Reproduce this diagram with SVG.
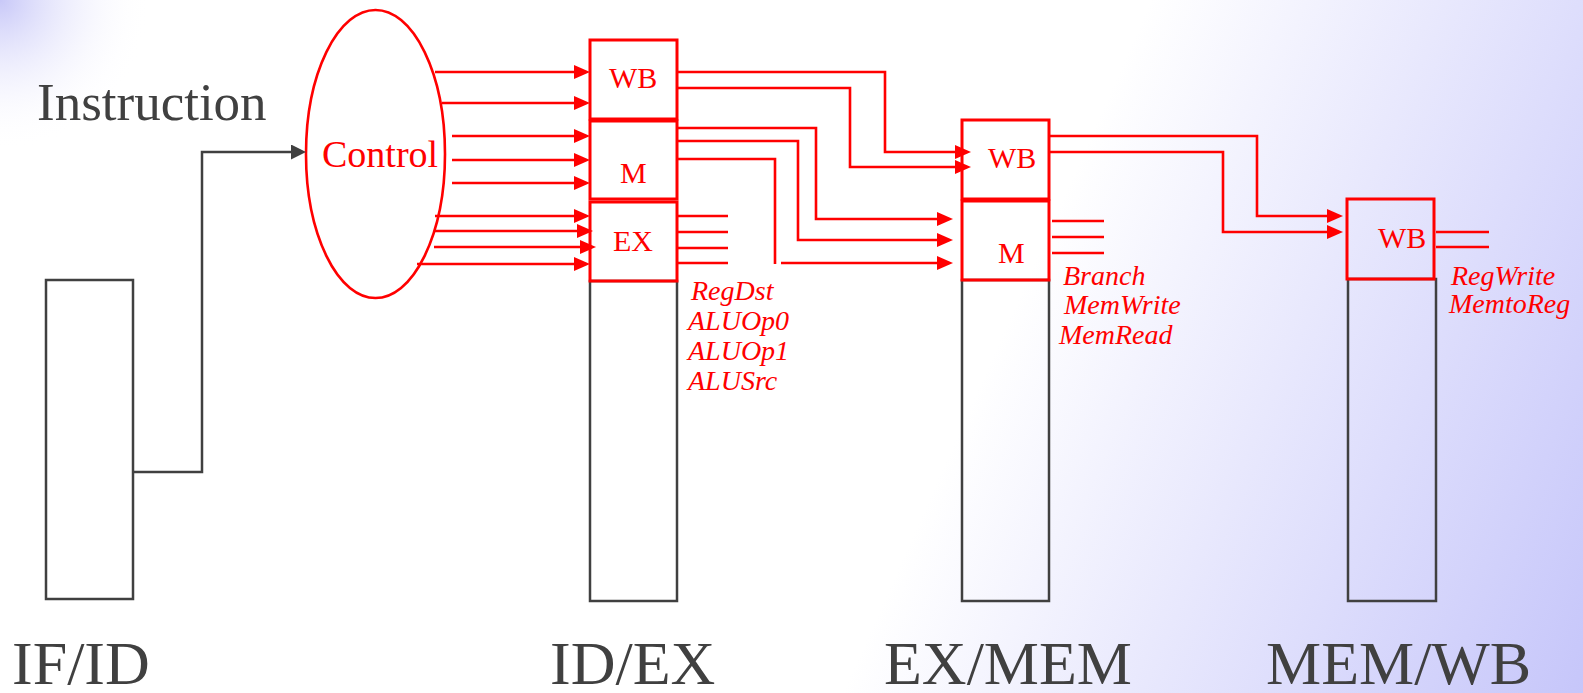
<svg xmlns="http://www.w3.org/2000/svg" width="1583" height="693" viewBox="0 0 1583 693">
<style>
.red{stroke:#ff0000;stroke-width:2.6;fill:none}
.box{stroke:#ff0000;stroke-width:3;fill:none}
.gray{stroke:#404040;stroke-width:2.5;fill:none}
.rt{font-family:"Liberation Serif",serif;fill:#ff0000;font-size:30px}
.it{font-family:"Liberation Serif",serif;fill:#ff0000;font-size:28px;font-style:italic}
.big{font-family:"Liberation Serif",serif;fill:#404040;font-size:62px}
</style>
<defs>
<linearGradient id="bg" gradientUnits="userSpaceOnUse" x1="700" y1="300" x2="1583" y2="693">
<stop offset="0" stop-color="#ffffff"/>
<stop offset="0.3" stop-color="#ffffff"/>
<stop offset="1" stop-color="#c6c6fa"/>
</linearGradient>
<radialGradient id="tl" gradientUnits="userSpaceOnUse" cx="0" cy="0" r="150">
<stop offset="0" stop-color="#c8c8f8" stop-opacity="1"/>
<stop offset="1" stop-color="#ffffff" stop-opacity="0"/>
</radialGradient>
<marker id="ar" markerUnits="userSpaceOnUse" markerWidth="16" markerHeight="14" refX="5" refY="7" orient="auto">
<path d="M0,0 L16,7 L0,14 z" fill="#ff0000"/>
</marker>
<marker id="ag" markerUnits="userSpaceOnUse" markerWidth="15" markerHeight="15" refX="5" refY="7.5" orient="auto">
<path d="M0,0 L15,7.5 L0,15 z" fill="#404040"/>
</marker>
</defs>
<rect x="0" y="0" width="1583" height="693" fill="url(#bg)"/>
<rect x="0" y="0" width="160" height="160" fill="url(#tl)"/>

<text x="37" y="120" font-family="Liberation Serif, serif" font-size="53" fill="#404040">Instruction</text>

<g id="ifid">
<rect x="46" y="280" width="87" height="319" class="gray"/>
<text x="12" y="684" class="big">IF/ID</text>
</g>

<g id="control">
<ellipse cx="375.5" cy="154" rx="69.5" ry="144" class="red"/>
<text x="322" y="167" font-family="Liberation Serif, serif" font-size="38" fill="#ff0000">Control</text>
</g>

<g id="idex">
<rect x="590" y="281" width="87" height="320" class="gray"/>
<rect x="590" y="40" width="87" height="79" class="box"/>
<rect x="590" y="121" width="87" height="78" class="box"/>
<rect x="590" y="202" width="87" height="79" class="box"/>
<text x="609" y="88" class="rt">WB</text>
<text x="620" y="183" class="rt">M</text>
<text x="613" y="251" class="rt">EX</text>
<text x="691" y="300" class="it">RegDst</text>
<text x="688" y="330" class="it">ALUOp0</text>
<text x="688" y="360" class="it">ALUOp1</text>
<text x="688" y="390" class="it">ALUSrc</text>
<text x="550" y="684" class="big">ID/EX</text>
</g>

<g id="exmem">
<rect x="962" y="280" width="87" height="321" class="gray"/>
<rect x="962" y="120" width="87" height="79" class="box"/>
<rect x="962" y="201" width="87" height="79" class="box"/>
<text x="988" y="168" class="rt">WB</text>
<text x="998" y="263" class="rt">M</text>
<text x="1063" y="285" class="it">Branch</text>
<text x="1064" y="314" class="it">MemWrite</text>
<text x="1059" y="344" class="it">MemRead</text>
<text x="884" y="684" class="big">EX/MEM</text>
</g>

<g id="memwb">
<rect x="1348" y="279" width="88" height="322" class="gray"/>
<rect x="1347" y="199" width="87" height="80" class="box"/>
<text x="1378" y="248" class="rt">WB</text>
<text x="1451" y="285" class="it">RegWrite</text>
<text x="1449" y="313" class="it">MemtoReg</text>
<text x="1266" y="684" class="big">MEM/WB</text>
</g>

<g id="connectors">
<polyline points="133,472 202,472 202,152 296,152" class="gray" marker-end="url(#ag)"/>

<line x1="435" y1="72" x2="579" y2="72" class="red" marker-end="url(#ar)"/>
<line x1="442" y1="103" x2="579" y2="103" class="red" marker-end="url(#ar)"/>
<line x1="452" y1="136" x2="579" y2="136" class="red" marker-end="url(#ar)"/>
<line x1="452" y1="160" x2="579" y2="160" class="red" marker-end="url(#ar)"/>
<line x1="452" y1="183" x2="579" y2="183" class="red" marker-end="url(#ar)"/>
<line x1="435" y1="216" x2="579" y2="216" class="red" marker-end="url(#ar)"/>
<line x1="434" y1="231" x2="582" y2="231" class="red" marker-end="url(#ar)"/>
<line x1="434" y1="247" x2="585" y2="247" class="red" marker-end="url(#ar)"/>
<line x1="417" y1="264" x2="579" y2="264" class="red" marker-end="url(#ar)"/>

<polyline points="677,72 885,72 885,152 960,152" class="red" marker-end="url(#ar)"/>
<polyline points="677,88 850,88 850,167 960,167" class="red" marker-end="url(#ar)"/>
<polyline points="677,128 816,128 816,219 942,219" class="red" marker-end="url(#ar)"/>
<polyline points="677,141 798,141 798,240 942,240" class="red" marker-end="url(#ar)"/>
<polyline points="677,159 775,159 775,264" class="red"/>
<line x1="781" y1="263" x2="942" y2="263" class="red" marker-end="url(#ar)"/>

<line x1="677" y1="216" x2="728" y2="216" class="red"/>
<line x1="677" y1="232" x2="728" y2="232" class="red"/>
<line x1="677" y1="248" x2="728" y2="248" class="red"/>
<line x1="677" y1="263" x2="728" y2="263" class="red"/>

<line x1="1052" y1="221" x2="1104" y2="221" class="red"/>
<line x1="1052" y1="237" x2="1104" y2="237" class="red"/>
<line x1="1052" y1="253" x2="1104" y2="253" class="red"/>

<polyline points="1049,136 1257,136 1257,216 1332,216" class="red" marker-end="url(#ar)"/>
<polyline points="1049,152 1223,152 1223,232 1332,232" class="red" marker-end="url(#ar)"/>

<line x1="1436" y1="232" x2="1489" y2="232" class="red"/>
<line x1="1436" y1="247" x2="1489" y2="247" class="red"/>
</g>
</svg>
